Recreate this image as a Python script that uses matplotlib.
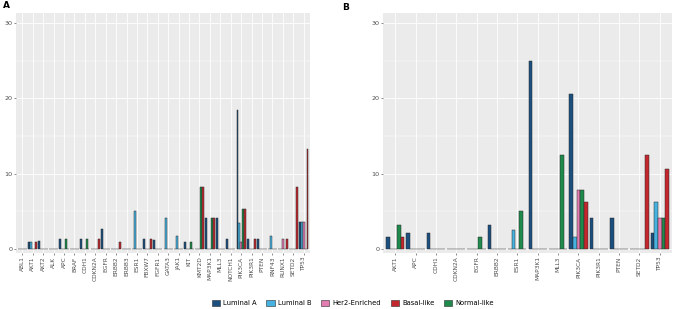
import matplotlib
matplotlib.use("Agg")
import matplotlib.pyplot as plt
from matplotlib.patches import Patch
import numpy as np

# ---------------- data ----------------
genes_a = ["ABL1", "AKT1", "AKT2", "ALK", "APC", "BRAF", "CDH1", "CDKN2A", "EGFR",
           "ERBB2", "ERBB3", "ESR1", "FBXW7", "FGFR1", "GATA3", "JAK1", "KIT", "KMT2D",
           "MAP3K1", "MLL3", "NOTCH1", "PIK3CA", "PIK3R1", "PTEN", "RNF43", "RUNX1",
           "SETD2", "TP53"]
lumA_a   = [0, 0.9, 1.1, 0, 1.3, 0, 1.3, 0, 2.7, 0, 0, 0, 1.3, 1.2, 0, 0, 1.0, 0,
            4.2, 4.2, 1.3, 18.5, 1.3, 1.3, 0, 0, 0, 3.6]
lumB_a   = [0, 0.9, 0, 0, 0, 0, 0, 0, 0, 0, 0, 5.1, 0, 0, 4.2, 1.7, 0, 0,
            0, 0, 0, 3.5, 0, 0, 1.7, 0, 0, 3.6]
her2_a   = [0, 0, 0, 0, 0, 0, 0, 0, 0, 0, 0, 0, 0, 0, 0, 0, 0, 0,
            0, 0, 0, 1.0, 0, 0, 0, 1.3, 0, 3.6]
basal_a  = [0, 0.9, 0, 0, 0, 0, 0, 1.3, 0, 1.0, 0, 0, 1.3, 0, 0, 0, 0, 8.3,
            4.2, 0, 0, 5.3, 1.3, 0, 0, 1.3, 8.3, 13.3]
normal_a = [0, 0, 0, 0, 1.3, 0, 1.3, 0, 0, 0, 0, 0, 0, 0, 0, 0, 1.0, 8.3,
            4.2, 0, 0, 5.3, 0, 0, 0, 0, 0, 0]

genes_b = ["AKT1", "APC", "CDH1", "CDKN2A", "EGFR", "ERBB2", "ESR1", "MAP3K1",
           "MLL3", "PIK3CA", "PIK3R1", "PTEN", "SETD2", "TP53"]
lumA_b   = [1.6, 2.1, 2.1, 0, 0, 3.2, 0, 25.0, 0, 20.6, 4.2, 4.2, 0, 2.1]
lumB_b   = [0, 0, 0, 0, 0, 0, 2.6, 0, 0, 1.6, 0, 0, 0, 6.3]
her2_b   = [0, 0, 0, 0, 0, 0, 0, 0, 0, 7.9, 0, 0, 0, 4.2]
basal_b  = [1.6, 0, 0, 0, 0, 0, 0, 0, 0, 6.3, 0, 0, 12.5, 10.6]
normal_b = [3.2, 0, 0, 0, 1.6, 0, 5.1, 0, 12.5, 7.9, 0, 0, 0, 4.2]

subtypes = ["Luminal A", "Luminal B", "Her2-Enriched", "Basal-like", "Normal-like"]
colors = {"Luminal A": "#1B4F80", "Luminal B": "#47B2E0", "Her2-Enriched": "#E37CB1",
          "Basal-like": "#C1272D", "Normal-like": "#1F8A4C"}
yticks = [0, 10, 20, 30]

# dodge order observed in the bars
dodge_order = ["Luminal A", "Luminal B", "Her2-Enriched", "Normal-like", "Basal-like"]


def draw(ax, genes, series):
    n = len(genes)
    x = np.arange(n)
    w = 0.18
    for k, name in enumerate(dodge_order):
        ax.bar(x + (k - 2) * w, series[name], width=w, color=colors[name],
               edgecolor="#2a2a2a", linewidth=0.35, zorder=3)
    ax.set_facecolor("#EBEBEB")
    ax.set_xlim(-0.6, n - 0.4)
    ax.set_ylim(-0.5, 31.3)
    ax.set_yticks(yticks)
    ax.set_yticks([5, 15, 25], minor=True)
    ax.set_xticks(x)
    ax.set_xticklabels(genes, rotation=90, fontsize=4.2, color="#4D4D4D")
    ax.tick_params(axis="y", labelsize=4.6, labelcolor="#4D4D4D", length=1.5,
                   width=0.4, color="#333333", pad=1)
    ax.tick_params(axis="y", which="minor", length=0)
    ax.tick_params(axis="x", length=1.5, width=0.4, color="#333333", pad=1)
    ax.grid(True, which="major", color="white", linewidth=0.6, zorder=0)
    ax.grid(True, which="minor", axis="y", color="white", linewidth=0.3, zorder=0)
    ax.set_axisbelow(True)
    for s in ax.spines.values():
        s.set_visible(False)


fig = plt.figure(figsize=(6.76, 3.09), dpi=100)
axA = fig.add_axes([16 / 676, 1 - 253 / 309, 294 / 676, 240 / 309])
axB = fig.add_axes([383 / 676, 1 - 253 / 309, 289 / 676, 240 / 309])

draw(axA, genes_a, {"Luminal A": lumA_a, "Luminal B": lumB_a, "Her2-Enriched": her2_a,
                    "Basal-like": basal_a, "Normal-like": normal_a})
draw(axB, genes_b, {"Luminal A": lumA_b, "Luminal B": lumB_b, "Her2-Enriched": her2_b,
                    "Basal-like": basal_b, "Normal-like": normal_b})

fig.text(3 / 676, 1 - 6 / 309, "A", fontsize=6.5, fontweight="bold", va="center", ha="left")
fig.text(342 / 676, 1 - 7 / 309, "B", fontsize=6.5, fontweight="bold", va="center", ha="left")

handles = [Patch(facecolor=colors[s], edgecolor="#2a2a2a", linewidth=0.4, label=s)
           for s in subtypes]
fig.legend(handles=handles, loc="center", bbox_to_anchor=(353 / 676, 1 - 303 / 309), ncol=5,
           frameon=False, fontsize=4.9, handlelength=1.2, handleheight=1.2,
           columnspacing=1.4, handletextpad=0.5)

fig.savefig("out.png", dpi=100)
